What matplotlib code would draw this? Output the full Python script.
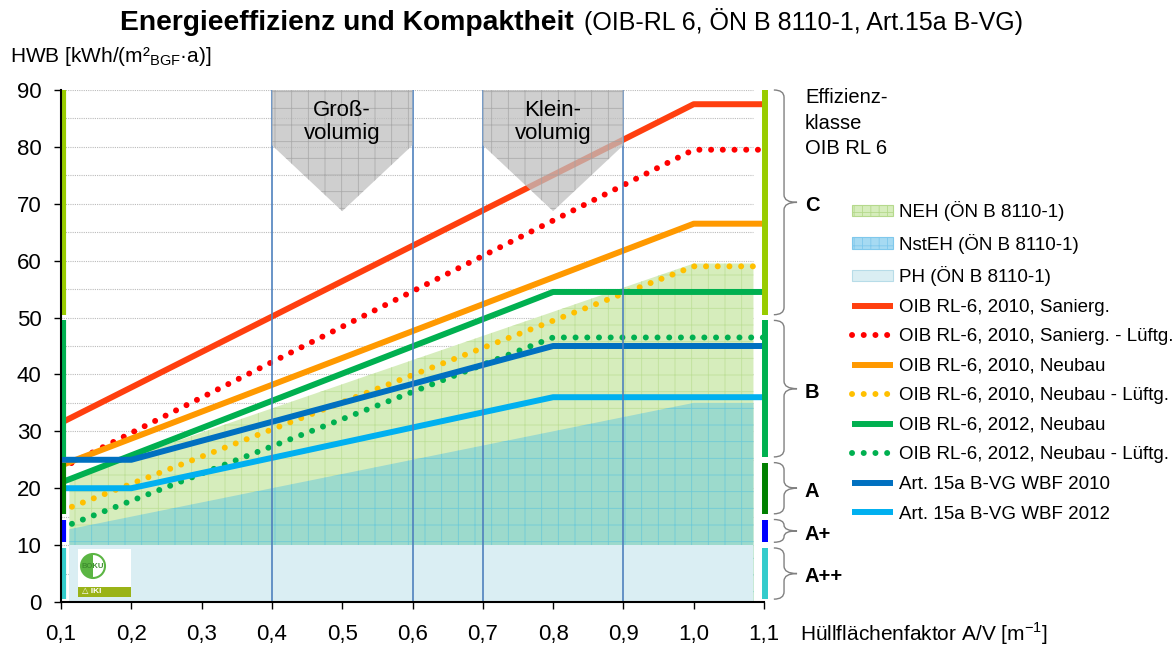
import numpy as np
import matplotlib.pyplot as plt
from matplotlib.patches import Polygon, Rectangle, Circle, Wedge, PathPatch, Patch
from matplotlib.path import Path
from matplotlib.lines import Line2D

plt.rcParams['font.family'] = ['Liberation Sans', 'DejaVu Sans']
plt.rcParams['hatch.linewidth'] = 0.6

# --- Grenzwerte HWB [kWh/(m2 a)] ueber A/V ---
x_2010 = [0.1, 1.0, 1.1]
hwb_sanierg_2010 = [31.5, 87.5, 87.5]
hwb_sanierg_lueft_2010 = [23.5, 79.5, 79.5]
hwb_neubau_2010 = [24.0, 66.5, 66.5]
hwb_neubau_lueft_2010 = [16.0, 59.0, 59.0]
x_2012 = [0.1, 0.8, 1.1]
hwb_neubau_2012 = [21.0, 54.5, 54.5]
hwb_neubau_lueft_2012 = [13.0, 46.5, 46.5]
x_wbf = [0.1, 0.2, 0.8, 1.1]
hwb_wbf_2010 = [25.0, 25.0, 45.0, 45.0]
hwb_wbf_2012 = [20.0, 20.0, 36.0, 36.0]

# Flaechen (OeN B 8110-1)
x_area = [0.112, 1.0, 1.085]
neh = [21.8, 59.5, 59.5]
nsteh = [12.8, 35.0, 35.0]
ph = [10.0, 10.0, 10.0]

# Effizienzklassen OIB RL 6
klassen = ['A++', 'A+', 'A', 'B', 'C']
klassen_von = [0.5, 10.5, 15.5, 25.5, 50.5]
klassen_bis = [9.5, 14.5, 24.5, 49.5, 90.0]
klassen_farben = ['#33CCCC', '#0000FF', '#008000', '#00B050', '#99CC00']

bereiche = ['Groß-\nvolumig', 'Klein-\nvolumig']
bereich_von = [0.4, 0.7]
bereich_bis = [0.6, 0.9]

xticks = [0.1, 0.2, 0.3, 0.4, 0.5, 0.6, 0.7, 0.8, 0.9, 1.0, 1.1]
yticks = [0, 10, 20, 30, 40, 50, 60, 70, 80, 90]

fig = plt.figure(figsize=(11.75, 6.48), dpi=100)
ax = fig.add_axes([61 / 1175, 46 / 648, 703 / 1175, 512 / 648])
ax.set_xlim(0.1, 1.1)
ax.set_ylim(0, 90)

for s in ['top', 'right']:
    ax.spines[s].set_visible(False)
for s in ['left', 'bottom']:
    ax.spines[s].set_linewidth(1.5)
    ax.spines[s].set_zorder(7)

# gridlines
for y in range(5, 95, 5):
    ax.hlines(y, 0.1, 1.085, colors='#BBBBBB', linestyles=(0, (1, 1)), lw=0.8, zorder=0.5)

# areas
ax.fill_between(x_area, 0, neh, facecolor='#D6EDBC', edgecolor='#BFE09A', hatch='+', lw=0, zorder=1)
ax.fill_between(x_area, 0, nsteh, facecolor='#9CDACC', edgecolor='#70CBD6', hatch='+', lw=0, zorder=1.1)
ax.fill_between(x_area, 0, ph, facecolor='#DAEEF3', lw=0, zorder=1.2)

lw = 4.3
dots = (0, (0.01, 1.95))
series = [
    (x_2010, hwb_sanierg_2010, '#FF3F0F', '-', 'OIB RL-6, 2010, Sanierg.'),
    (x_2010, hwb_sanierg_lueft_2010, '#FF0000', dots, 'OIB RL-6, 2010, Sanierg. - Lüftg.'),
    (x_2010, hwb_neubau_2010, '#FF9900', '-', 'OIB RL-6, 2010, Neubau'),
    (x_2010, hwb_neubau_lueft_2010, '#FFC000', dots, 'OIB RL-6, 2010, Neubau - Lüftg.'),
    (x_2012, hwb_neubau_2012, '#00B050', '-', 'OIB RL-6, 2012, Neubau'),
    (x_2012, hwb_neubau_lueft_2012, '#00B050', dots, 'OIB RL-6, 2012, Neubau - Lüftg.'),
    (x_wbf, hwb_wbf_2010, '#0070C0', '-', 'Art. 15a B-VG WBF 2010'),
    (x_wbf, hwb_wbf_2012, '#00B0F0', '-', 'Art. 15a B-VG WBF 2012'),
]
line_handles = []
for xs, ys, c, ls, lab in series:
    ax.plot(xs, ys, color=c, lw=lw, ls=ls, dash_capstyle='round', solid_capstyle='butt', zorder=3)
    line_handles.append(Line2D([], [], color=c, lw=lw, ls=ls, dash_capstyle='round',
                               solid_capstyle='butt', label=lab))

# Bereiche gross-/kleinvolumig
ax.vlines(bereich_von + bereich_bis, 0, 90, colors='#4F81BD', lw=1.2, zorder=4)
for name, a, b in zip(bereiche, bereich_von, bereich_bis):
    m = (a + b) / 2
    poly = Polygon([(a, 90), (b, 90), (b, 80.3), (m, 68.7), (a, 80.3)], closed=True,
                   facecolor='#BFBFBF', edgecolor='#A0A0A0', hatch='+', lw=0, alpha=0.75, zorder=5)
    ax.add_patch(poly)
    ax.text(m, 84.4, name, ha='center', va='center', fontsize=16, linespacing=1.15, zorder=6)

# Effizienzklassen: Balken, Klammern, Beschriftung
def brace(y0, y1):
    x0, xm, xt = 1.114, 1.1285, 1.147
    ym = (y0 + y1) / 2
    r = min(1.3, (y1 - y0) / 4)
    verts = [(x0, y1), (xm, y1), (xm, y1 - r), (xm, ym + r), (xm, ym), (xt, ym),
             (xm, ym), (xm, ym - r), (xm, y0 + r), (xm, y0), (x0, y0)]
    codes = [Path.MOVETO, Path.CURVE3, Path.CURVE3, Path.LINETO, Path.CURVE3, Path.CURVE3,
             Path.CURVE3, Path.CURVE3, Path.LINETO, Path.CURVE3, Path.CURVE3]
    ax.add_patch(PathPatch(Path(verts, codes), facecolor='none', edgecolor='#808080',
                           lw=1.0, clip_on=False))

for k, lo, hi, c in zip(klassen, klassen_von, klassen_bis, klassen_farben):
    ax.plot([1.1014, 1.1014], [lo, hi], color=c, lw=4.3, solid_capstyle='butt', clip_on=False, zorder=6)
    ax.plot([0.1036, 0.1036], [lo, hi], color=c, lw=3.0, solid_capstyle='butt', clip_on=False, zorder=6)
    brace(lo, hi)
    ax.text(1.158, (lo + hi) / 2 - 0.6, k, fontsize=14.5, fontweight='bold', va='center', ha='left',
            clip_on=False)

fig.text(805 / 1175, 1 - 88 / 648, 'Effizienz-\nklasse\nOIB RL 6', va='top', ha='left',
         fontsize=14.5, linespacing=1.45)

# Logo (BOKU / IKI)
lg = fig.add_axes([78 / 1175, 51 / 648, 53 / 1175, 48 / 648])
lg.set_xlim(0, 53)
lg.set_ylim(0, 48)
lg.axis('off')
lg.add_patch(Rectangle((0, 0), 53, 48, facecolor='white', edgecolor='none'))
lg.add_patch(Rectangle((0, 0), 53, 10, facecolor='#9AB317', edgecolor='none'))
lg.add_patch(Circle((15, 31), 12, facecolor='white', edgecolor='#5BB543', lw=1.5))
lg.add_patch(Wedge((15, 31), 12, 90, 270, facecolor='#5BB543', edgecolor='none'))
lg.text(15, 31, 'BOKU', fontsize=5.5, color='#3F8F2F', fontweight='bold', ha='center', va='center')
lg.text(4, 5, '△ IKI', fontsize=6, color='white', fontweight='bold', ha='left', va='center')

# axes
ax.set_xticks(xticks)
ax.set_xticklabels([('%.1f' % v).replace('.', ',') for v in xticks])
ax.set_yticks(yticks)
ax.tick_params(labelsize=16, length=5, width=1, direction='out')
ax.tick_params(axis='x', pad=11)
ax.tick_params(axis='y', pad=9)

fig.text(10 / 1175, 1 - 62 / 648, 'HWB [kWh/(m²$_{\\mathregular{BGF}}$·a)]', fontsize=15,
         ha='left', va='baseline')
fig.text(800 / 1175, 1 - 641 / 648, 'Hüllflächenfaktor A/V [m$^{\\mathregular{-1}}$]', fontsize=15,
         ha='left', va='baseline')

fig.text(120 / 1175, 1 - 30 / 648, 'Energieeffizienz und Kompaktheit', fontsize=20.3,
         fontweight='bold', ha='left', va='baseline')
fig.text(584 / 1175, 1 - 30 / 648, '(OIB-RL 6, ÖN B 8110-1, Art.15a B-VG)', fontsize=18,
         ha='left', va='baseline')

# legend
area_handles = [
    Patch(facecolor='#D6EDBC', edgecolor='#B5D98C', hatch='++', lw=0.8, label='NEH (ÖN B 8110-1)'),
    Patch(facecolor='#A6DAF2', edgecolor='#7FC8EC', hatch='++', lw=0.8, label='NstEH (ÖN B 8110-1)'),
    Patch(facecolor='#DAEEF3', edgecolor='#B7DCE8', lw=0.8, label='PH (ÖN B 8110-1)'),
]
handles = area_handles + line_handles
fig.legend(handles=handles, labels=[h.get_label() for h in handles], loc='upper left',
           bbox_to_anchor=(852 / 1175, 1 - 201 / 648), frameon=False, fontsize=13.5,
           handlelength=2.2, handletextpad=0.3, labelspacing=0.67, borderpad=0,
           borderaxespad=0, handleheight=0.55)

fig.savefig('out.png', dpi=100)
